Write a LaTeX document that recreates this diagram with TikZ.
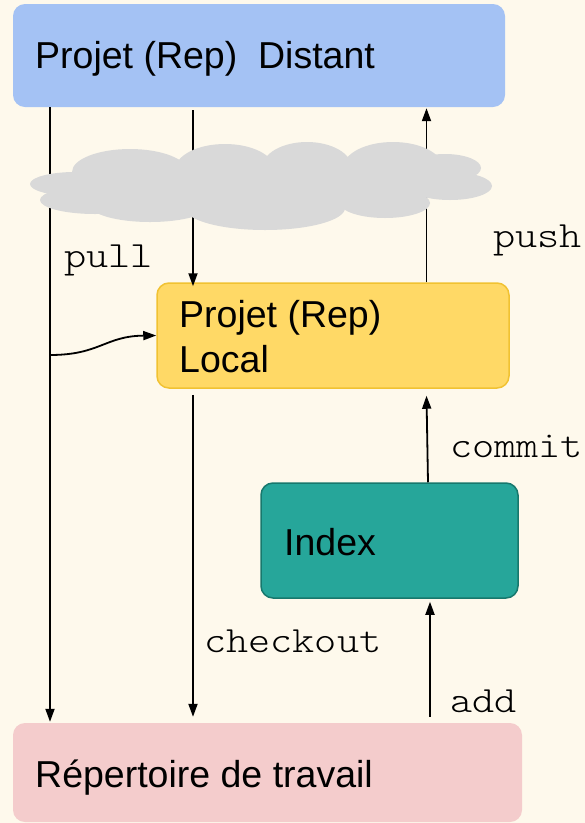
\documentclass[tikz,border=0pt]{standalone}
\usepackage{fontspec}
\setmainfont{Liberation Sans}
\newfontfamily\cmdfont{lmmonolt10-regular.otf}[FakeStretch=1.14]
\usetikzlibrary{arrows.meta}

\definecolor{paper}{HTML}{FEF9EC}
\definecolor{remote}{HTML}{A4C2F4}
\definecolor{localfill}{HTML}{FFD966}
\definecolor{localedge}{HTML}{F1C232}
\definecolor{indexfill}{HTML}{26A69A}
\definecolor{indexedge}{HTML}{17786D}
\definecolor{workfill}{HTML}{F4CCCC}
\definecolor{cloudgray}{HTML}{D9D9D9}

\tikzset{
  box/.style={rectangle, rounded corners=12pt, inner sep=0pt},
  boxtext/.style={inner sep=0pt, anchor=base west, font=\fontsize{37.5}{45}\selectfont},
  cmd/.style={inner sep=0pt, anchor=base west, font=\fontsize{37}{40}\cmdfont},
  arr/.style={line width=1.8pt, -{Triangle[length=13pt,width=9pt]}},
  puff/.style={fill=cloudgray, draw=none}
}

\begin{document}
\begin{tikzpicture}[x=1pt, y=-1pt]
  % page
  \fill[paper] (0,0) rectangle (585,823);
  \useasboundingbox (0,0) rectangle (585,823);

  % the four stores
  \node[box, fill=remote, minimum width=492pt, minimum height=103pt] (remote) at (259,55.5) {};
  \node[box, fill=localfill, draw=localedge, line width=1.5pt, minimum width=352pt, minimum height=105pt] (local) at (333,335.5) {};
  \node[box, fill=indexfill, draw=indexedge, line width=1.5pt, minimum width=257pt, minimum height=115pt] (index) at (389.5,540.5) {};
  \node[box, fill=workfill, minimum width=509pt, minimum height=99pt] (work) at (267.5,772.5) {};

  \node[boxtext] (tremote) at (35,68) {Projet (Rep)\ \ Distant};
  \node[boxtext] (tlocalA) at (179,327) {Projet (Rep)};
  \node[boxtext] (tlocalB) at (179,372) {Local};
  \node[boxtext] (tindex) at (284,555) {Index};
  \node[boxtext] (twork) at (35,787) {R\'epertoire de travail};

  % columns of the connectors
  \coordinate (xpull) at (50,0);
  \coordinate (xmid) at (193,0);
  \coordinate (xpush) at (426.5,0);
  \coordinate (xcommit) at (428,0);
  \coordinate (xadd) at (430,0);
  \coordinate (fork) at (50,355);

  % pull
  \draw[arr] (xpull |- remote.south) -- ([yshift=1pt]xpull |- work.north);
  \draw[arr] (fork) .. controls (100,355) and (105,336) .. (local.west);
  % fetch into the local repository
  \draw[arr] ([yshift=-3pt]xmid |- remote.south) -- ([yshift=-4pt]xmid |- local.north);
  % checkout
  \draw[arr] ([yshift=-6pt]xmid |- local.south) -- ([yshift=6pt]xmid |- work.north);
  % push
  \draw[arr] (xpush |- local.north) -- ([yshift=-1pt]xpush |- remote.south);
  % commit
  \draw[arr] (xcommit |- index.north) -- ([yshift=-7pt]xpush |- local.south);
  % add
  \draw[arr] ([yshift=6pt]xadd |- work.north) -- ([yshift=-3pt]xadd |- index.south);

  % the network cloud, drawn over the lines
  \fill[puff] (260,185) ellipse [x radius=190, y radius=25];
  \fill[puff] (75,184) ellipse [x radius=45, y radius=12];
  \fill[puff] (95,200) ellipse [x radius=55, y radius=14];
  \fill[puff] (130,172) ellipse [x radius=58, y radius=23];
  \fill[puff] (225,170) ellipse [x radius=50, y radius=26];
  \fill[puff] (307,168) ellipse [x radius=45, y radius=26];
  \fill[puff] (393,168) ellipse [x radius=50, y radius=26];
  \fill[puff] (445,168) ellipse [x radius=36, y radius=14];
  \fill[puff] (450,186) ellipse [x radius=42, y radius=14];
  \fill[puff] (385,203) ellipse [x radius=45, y radius=15];
  \fill[puff] (265,208) ellipse [x radius=80, y radius=22];
  \fill[puff] (150,205) ellipse [x radius=60, y radius=17];

  % command labels
  \node[cmd] (lpull) at (64,267) {pull};
  \node[cmd] (lpush) at (493,247) {push};
  \node[cmd] (lcommit) at (450,457) {commit};
  \node[cmd] (lcheckout) at (204,652) {checkout};
  \node[cmd] (ladd) at (450,712) {add};
\end{tikzpicture}
\end{document}
